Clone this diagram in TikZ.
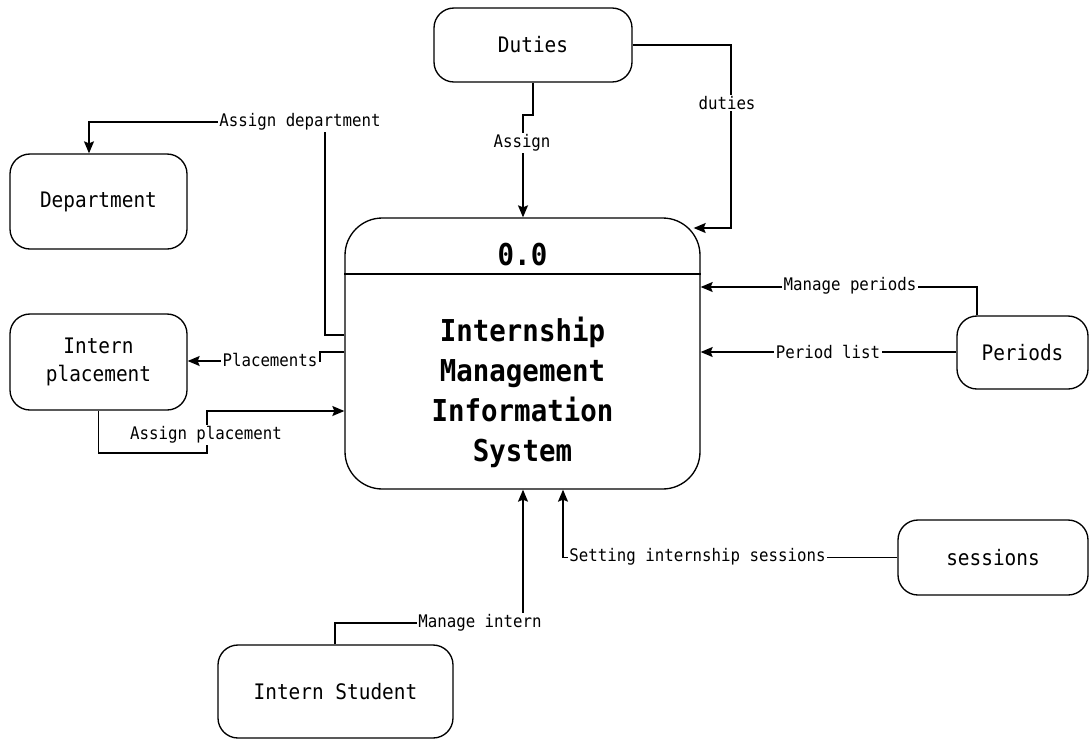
\documentclass[tikz,border=0pt]{standalone}
\usepackage{fontspec}
\setmonofont[FakeStretch=0.91]{DejaVu Sans Mono}
\usetikzlibrary{arrows.meta,calc}
\begin{document}
\begin{tikzpicture}[x=0.75pt,y=-0.75pt,
  box/.style={draw, line width=1pt, rounded corners=15pt, align=center, inner sep=0pt,
    font=\ttfamily\fontsize{16}{21}\selectfont},
  lbl/.style={fill=white, inner sep=1pt, font=\ttfamily\fontsize{13}{15}\selectfont},
  flow/.style={draw, line width=1pt, -{Stealth[length=9pt,width=7.5pt,inset=1.5pt]}},
  plain/.style={draw, line width=1pt},
  bigtext/.style={align=center, inner sep=0pt, font=\ttfamily\bfseries\fontsize{22.6}{30}\selectfont}]
\fill[white] (0,0) rectangle (1089,740);
\useasboundingbox (0,0) rectangle (1089,740);

% nodes
\node[box, minimum width=148.5pt, minimum height=55.5pt] (duties) at (533,45) {Duties};
\node[box, minimum width=132.75pt, minimum height=71.25pt] (dep) at (98.5,201.5) {Department};
\node[box, minimum width=132.75pt, minimum height=72pt] (ip) at (98.5,362) {Intern\\placement};
\node[box, rounded corners=28pt, minimum width=266.25pt, minimum height=203.25pt] (main) at (522.5,353.5) {};
\node[box, minimum width=98.25pt, minimum height=54.75pt] (per) at (1022.5,352.5) {Periods};
\node[box, minimum width=142.5pt, minimum height=56.25pt] (ses) at (993,557.5) {sessions};
\node[box, minimum width=176.25pt, minimum height=69.75pt] (stu) at (335.5,691.5) {Intern Student};

\draw[plain] (main.west |- 0,274) -- (main.east |- 0,274);
\node[bigtext] (pid) at (522.5,255) {0.0};
\node[bigtext] (pname) at (522.5,392) {Internship\\Management\\Information\\System};

% connectors
\draw[flow] (main.west |- 0,335) -- (325,335) -- (325,122) -- (89,122) -- (dep.north -| 89,0);
\node[lbl] (l1) at (300,122) {Assign department};

\draw[flow] (main.west |- 0,352) -- (320,352) -- (320,361) -- (ip.east |- 0,361);
\node[lbl] (l2) at (270,360) {Placements};

\draw[flow] (ip.south) -- (98.5,453) -- (207,453) -- (207,411) -- (main.west |- 0,411);
\node[lbl] (l3) at (206,435) {Assign placement};

\draw[flow] (duties.south) -- (533,115) -- (523,115) -- (main.north -| 523,0);
\node[lbl] (l4) at (522,143) {Assign};

\draw[flow] (duties.east) -- (731,45) -- (731,228) -- ($(main.east |- 0,228)+(-7,0)$);
\node[lbl] (l5) at (727,103) {duties};

\draw[flow] (per.north -| 977,0) -- (977,287) -- (main.east |- 0,287);
\node[lbl] (l6) at (850,286) {Manage periods};

\draw[flow] (per.west |- 0,352) -- (main.east |- 0,352);
\node[lbl] (l7) at (828,352) {Period list};

\draw[flow] (ses.west) -- (563,557.5) -- (main.south -| 563,0);
\node[lbl] (l8) at (697.5,557) {Setting internship sessions};

\draw[flow] (stu.north -| 335,0) -- (335,623) -- (523,623) -- (main.south -| 523,0);
\node[lbl] (l9) at (480,623) {Manage intern};
\end{tikzpicture}
\end{document}
